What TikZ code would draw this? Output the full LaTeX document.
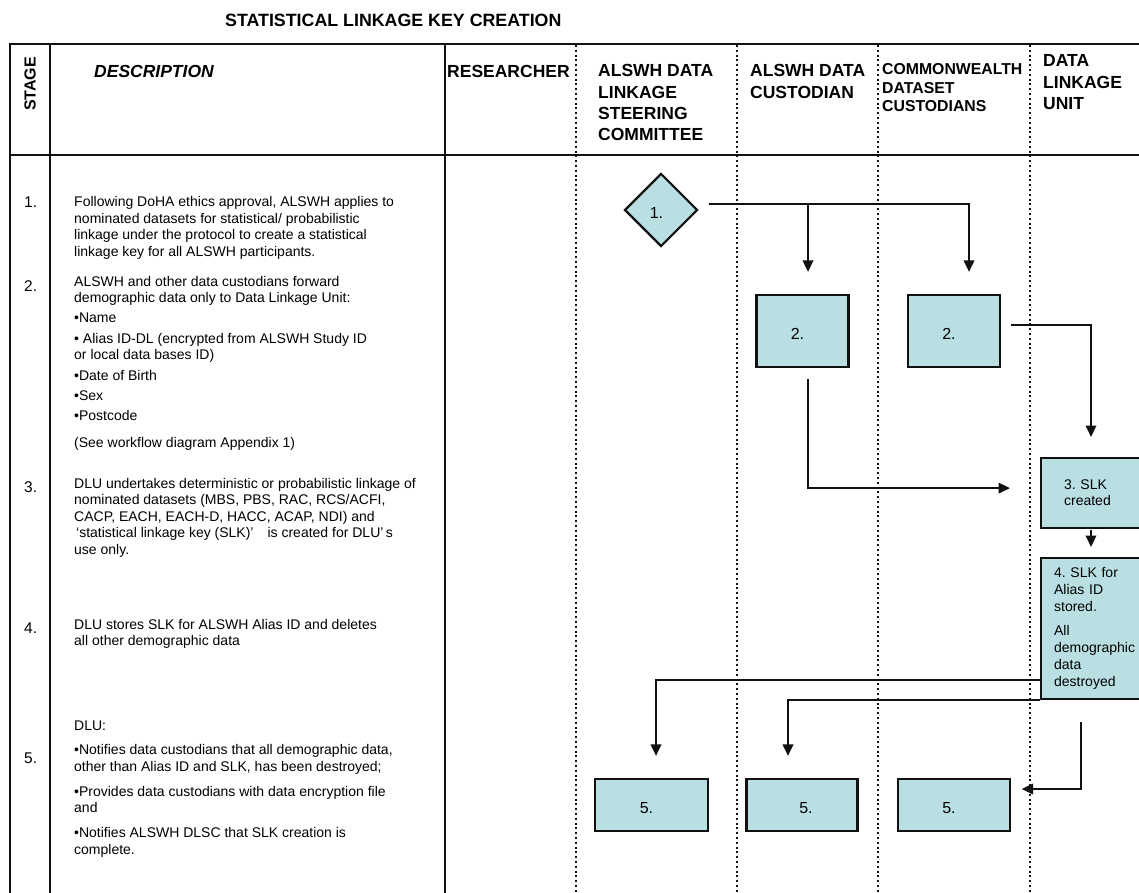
\documentclass[tikz,border=0pt]{standalone}
\usepackage{fontspec}
\setmainfont{Liberation Sans}
\usetikzlibrary{arrows.meta,calc,shapes.geometric}
\definecolor{boxfill}{HTML}{B9DFE3}
\definecolor{ink}{HTML}{111111}
\frenchspacing
\begin{document}
\frenchspacing
\begin{tikzpicture}[x=1pt,y=-1pt,
  tline/.style={line width=2.4pt,draw=ink},
  dline/.style={line width=2.2pt,draw=ink,dash pattern=on 2pt off 2.8pt},
  conn/.style={line width=2pt,draw=ink},
  arr/.style={conn,-{Triangle[length=11.5pt,width=10.5pt]}},
  box/.style={draw=ink,line width=2.2pt,fill=boxfill,inner sep=0,font=\fontsize{16}{19}\selectfont\frenchspacing},
  numbox/.style={box,text height=17pt,text depth=0pt},
  desc/.style={anchor=north west,inner sep=0,align=left,font=\fontsize{14}{16.5}\selectfont\frenchspacing},
  hdr/.style={anchor=north west,inner sep=0,align=left,font=\fontsize{17.5}{21.3}\selectfont\bfseries},
  num/.style={anchor=base west,inner sep=0,font=\fontsize{15.5}{18}\selectfont}]
\useasboundingbox (0,0) rectangle (1139,893);
\fill[white] (0,0) rectangle (1139,893);

% table frame
\draw[tline] (9,44) -- (1150,44);
\draw[tline] (9,155) -- (1150,155);
\foreach \x in {10,50,445} \draw[tline] (\x,43) -- (\x,900);
\foreach \x in {576,737,878,1030} \draw[dline] (\x,45) -- (\x,900);

% title and headers
\node[anchor=base west,inner sep=0,font=\fontsize{17.8}{21}\selectfont\bfseries] (title) at (225,26.7) {STATISTICAL LINKAGE KEY CREATION};
\node[rotate=90,inner sep=0,font=\fontsize{16}{19}\selectfont\bfseries] (hstage) at (30,84) {STAGE};
\node[anchor=base west,inner sep=0,font=\fontsize{17.5}{21}\selectfont\bfseries\itshape] (hdesc) at (94,77.7) {DESCRIPTION};
\node[anchor=base west,inner sep=0,font=\fontsize{17.5}{21}\selectfont\bfseries] (hres) at (447,77.7) {RESEARCHER};
\node[hdr] (hdlsc) at (598,64.5) {ALSWH DATA\\LINKAGE\\STEERING\\COMMITTEE};
\node[hdr] (hcust) at (750,64.5) {ALSWH DATA\\CUSTODIAN};
\node[hdr,font=\fontsize{15.8}{18.4}\selectfont\bfseries] (hcom) at (882,63.7) {COMMONWEALTH\\DATASET\\CUSTODIANS};
\node[hdr,font=\fontsize{17.5}{21.5}\selectfont\bfseries] (hdlu) at (1043,54.5) {DATA\\LINKAGE\\UNIT};

% stage numbers
\node[num] (n1) at (24,208) {1.};
\node[num] (n2) at (24,291) {2.};
\node[num] (n3) at (24,492) {3.};
\node[num] (n4) at (24,633) {4.};
\node[num] (n5) at (24,763) {5.};

% descriptions
\node[desc] (d1text) at (74,196.4) {Following DoHA ethics approval, ALSWH applies to\\nominated datasets for statistical/ probabilistic\\linkage under the protocol to create a statistical\\linkage key for all ALSWH participants.};
\node[desc] (d2text) at (74,275.8) {ALSWH and other data custodians forward\\demographic data only to Data Linkage Unit:\\[3.8pt]\textbullet Name\\[3.8pt]\textbullet{} Alias ID-DL (encrypted from ALSWH Study ID\\or local data bases ID)\\[3.8pt]\textbullet Date of Birth\\[3.8pt]\textbullet Sex\\[3.8pt]\textbullet Postcode\\[10pt](See workflow diagram Appendix 1)};
\node[desc] (d3text) at (74,477.8) {DLU undertakes deterministic or probabilistic linkage of\\nominated datasets (MBS, PBS, RAC, RCS/ACFI,\\CACP, EACH, EACH-D, HACC, ACAP, NDI) and\\\hspace*{2pt}‘statistical linkage key (SLK)’\quad is created for DLU’\,s\\use only.};
\node[desc] (d4text) at (74,618.8) {DLU stores SLK for ALSWH Alias ID and deletes\\all other demographic data};
\node[desc] (d5text) at (74,720.7) {DLU:\\[7.8pt]\textbullet Notifies data custodians that all demographic data,\\other than Alias ID and SLK, has been destroyed;\\[8.5pt]\textbullet Provides data custodians with data encryption file\\and\\[8.5pt]\textbullet Notifies ALSWH DLSC that SLK creation is\\complete.};

% flow shapes
\node[numbox,diamond,aspect=1,minimum width=73,minimum height=73] (d1) at (661,210) {1.\hspace*{9pt}};
\node[numbox,minimum width=92,minimum height=72] (b2a) at (802.5,331) {2.\hspace*{10pt}};
\node[numbox,minimum width=92,minimum height=72] (b2b) at (954,331) {2.\hspace*{10pt}};
\node[box,anchor=north west,minimum height=70,text width=110,align=left,inner xsep=23,font=\fontsize{14}{16}\selectfont\frenchspacing] (s3) at (1040,457) {3. SLK\\created};
\node[box,anchor=north west,minimum height=141,text width=130,align=left,inner xsep=13,font=\fontsize{14}{17}\selectfont\frenchspacing] (s4) at (1040,557) {4. SLK for\\Alias ID\\stored.\\[7pt]All\\demographic\\data\\destroyed};
\node[numbox,minimum width=113,minimum height=52] (b5a) at (651.5,805) {5.\hspace*{10pt}};
\node[numbox,minimum width=111,minimum height=52] (b5b) at (802,805) {\hspace*{8pt}5.};
\node[numbox,minimum width=112,minimum height=52] (b5c) at (954,805) {5.\hspace*{10pt}};

% connectors
\coordinate (j1) at ($(b2a.north)+(5.5,-91)$);
\draw[arr] ($(d1.east)+(10,-6)$) -| ($(b2b.north)+(15,-22)$);
\draw[arr] (j1) -- ($(b2a.north)+(5.5,-22)$);
\draw[arr] ($(b2b.east)+(10,-6)$) -| ($(s3.north west)+(51,-20)$);
\draw[arr] ($(b2a.south)+(5.5,11)$) |- ($(s3.west)+(-30,-5)$);
\draw[arr] ($(s3.south west)+(51,1)$) -- ($(s4.north west)+(51,-10)$);
\draw[arr] ($(s4.south west)+(0,-20)$) -| ($(b5a.north)+(4.5,-22)$);
\draw[arr] (s4.south west) -| ($(b5b.north)+(-14,-22)$);
\draw[arr] ($(s4.south west)+(41,22)$) |- ($(b5c.east)+(10.5,-16)$);
\end{tikzpicture}
\end{document}
